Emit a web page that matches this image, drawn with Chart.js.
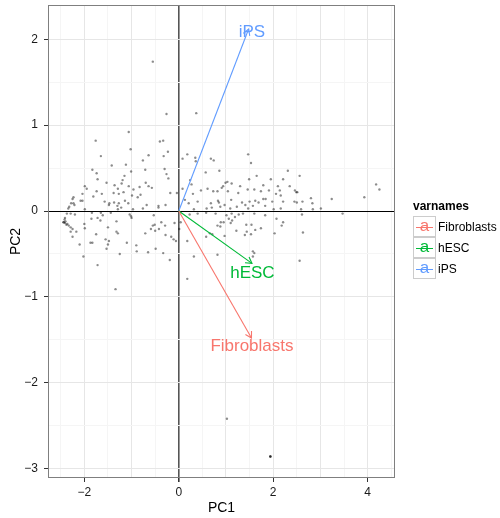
<!DOCTYPE html>
<html>
<head>
<meta charset="utf-8">
<script src="https://cdn.jsdelivr.net/npm/chart.js@4/dist/chart.umd.min.js"></script>
<style>
  html, body { margin: 0; padding: 0; background: #fff; }
  #wrap { position: relative; width: 500px; height: 518px; font-family: "Liberation Sans", Arial, sans-serif; }
  #legend { position: absolute; left: 413px; top: 199px; font-size: 12px; color: #000; }
  #legend .title { font-weight: bold; height: 17px; line-height: 15px; }
  #legend .row { height: 21px; display: flex; align-items: center; }
  #legend .key { position: relative; box-sizing: border-box; width: 23px; height: 21px; border: 1px solid #cccccc;
                 font-size: 17px; line-height: 17px; text-align: center; margin-right: 2px; }
  #legend .key::after { content: ""; position: absolute; left: 2px; right: 2px; top: 50%; height: 1px; background: currentColor; }
</style>
</head>
<body>
<div id="wrap">
  <canvas id="biplot" width="500" height="518"></canvas>
  <div id="legend"><div class="title">varnames</div></div>
</div>
<script>
// PCA scores (PC1, PC2)
const pcX = [
  -1.06, -1.76, -0.40, -0.33, -1.02, -1.65, -0.64, -0.32, -0.23, -0.76,
  -1.12, -1.42, -0.71, -0.30, -1.83, -1.74, -1.01, -0.26, -1.15, -1.72,
  -0.22, -1.19, -1.53, -1.21, -1.36, -1.06, -0.70, -0.64, -1.99, -1.95,
  -0.83, -0.57, -1.29, -1.74, -1.63, -1.38, -1.17, -0.96, -2.04, -1.81,
  -1.27, -0.99, -0.81, -0.18, -0.04, -1.14, -0.87, -2.23, -2.25, -2.08,
  -2.04, -1.57, -1.47, -1.37, -1.27, -1.07, -2.28, -2.23, -2.21, -1.48,
  -1.30, -1.22, -0.76, -0.68, -0.43, -0.43, -0.28, -2.32, -2.34, -1.99,
  -1.29, -0.97, -2.37, -2.29, -2.20, -1.84, -1.65, -1.44, -1.61, -2.41,
  -2.42, -2.44, -2.41, -2.38, -2.33, -1.85, -1.72, -1.66, -1.04, -1.01,
  -1.00, -1.32, -0.53, -0.37, -0.51, -0.55, -0.29, -0.09, -2.00, -1.99,
  -2.29, -2.25, -2.29, -2.17, -1.50, -1.32, -1.29, -0.59, -0.50, -0.42,
  -0.71, -0.28, -0.16, -0.11, -0.06, -1.75, -2.25, -1.55, -1.48, -1.87,
  -1.83, -1.10, -2.10, -1.50, -0.90, -1.53, -0.49, -0.89, -0.65, -0.33,
  -1.25, -2.02, -0.19, -1.72, -1.34,
   0.18,  0.08,  0.35,  0.36,  0.68,  0.74,  1.47,  1.53,  0.86,  0.57,
   2.31,  1.65,  0.24,  0.27,  1.03,  0.99,  0.94,  0.91,  1.12,  1.49,
   1.95,  2.21,  1.30,  1.79,  2.10,  2.35,  0.08,  0.47,  0.61,  0.73,
   0.82,  1.04,  1.26,  1.46,  1.60,  1.74,  1.91,  2.06,  2.14,  2.46,
   2.51,  0.30,  0.83,  0.85,  1.11,  1.34,  1.50,  1.62,  1.69,  1.79,
   1.84,  1.98,  2.16,  2.21,  0.40,  0.21,  0.68,  0.13,  0.97,  1.23,
   1.41,  1.57,  1.83,  0.88,  0.59,  0.32,  0.70,  1.09,  1.47,  2.01,
   2.16,  2.45,
   0.23,  0.40,  0.58,  0.78,  1.01,  1.12,  1.19,  1.27,  1.06,  1.13,
   1.36,  1.60,  1.83,  2.07,  0.04,  0.89,  0.95,  1.10,  1.43,  1.54,
   2.21,  0.82,  0.88,  1.74,  1.22,  1.44,  1.62,  2.18,  0.66,  0.71,
   2.03,  0.58,  0.97,  1.40,  1.53,  0.01,  0.18,  0.82,  1.57,  1.60,
   1.57,  0.32,  0.18,
   2.56,  2.49,  2.50,  2.62,  2.80,  2.83,  2.59,  2.84,  3.01,  3.24,
   3.93,  4.18,  4.25,  2.61,  3.47,  2.63,
  -0.55, -0.26,  0.37,  1.02,  1.94,  1.94,  1.94,  2.56, -2.44, -2.40,
  -2.36
];
const pcY = [
   0.92,  0.82,  0.81,  0.82,  0.72,  0.64,  0.65,  0.64,  0.69,  0.59,
   0.54,  0.53,  0.48,  0.49,  0.48,  0.44,  0.46,  0.43,  0.41,  0.37,
   0.38,  0.36,  0.33,  0.32,  0.30,  0.29,  0.33,  0.29,  0.29,  0.26,
   0.28,  0.27,  0.26,  0.23,  0.20,  0.21,  0.22,  0.25,  0.20,  0.17,
   0.20,  0.18,  0.19,  0.21,  0.21,  0.12,  0.16,  0.16,  0.14,  0.12,
   0.12,  0.11,  0.09,  0.10,  0.09,  0.09,  0.09,  0.09,  0.07,  0.07,
   0.06,  0.04,  0.03,  0.07,  0.06,  0.04,  0.07,  0.05,  0.03,  0.02,
   0.02,  0.02, -0.03, -0.03, -0.04, -0.02, -0.02, -0.02, -0.05, -0.08,
  -0.10, -0.13, -0.14, -0.16, -0.17, -0.09, -0.08, -0.11, -0.04, -0.06,
  -0.08, -0.12, -0.05, -0.13, -0.16, -0.17, -0.17, -0.14, -0.15, -0.20,
  -0.19, -0.21, -0.24, -0.24, -0.19, -0.24, -0.26, -0.21, -0.23, -0.21,
  -0.26, -0.28, -0.30, -0.33, -0.35, -0.27, -0.30, -0.33, -0.35, -0.37,
  -0.37, -0.37, -0.39, -0.39, -0.40, -0.44, -0.44, -0.47, -0.48, -0.49,
  -0.50, -0.53, -0.57, -0.63, -0.91,
   0.66,  0.61,  0.62,  0.58,  0.61,  0.59,  0.66,  0.56,  0.47,  0.45,
   0.47,  0.41,  0.36,  0.31,  0.34,  0.33,  0.29,  0.27,  0.32,  0.37,
   0.37,  0.37,  0.29,  0.30,  0.29,  0.29,  0.26,  0.24,  0.26,  0.23,
   0.23,  0.23,  0.21,  0.25,  0.25,  0.23,  0.24,  0.20,  0.24,  0.24,
   0.22,  0.20,  0.12,  0.10,  0.13,  0.10,  0.11,  0.12,  0.10,  0.14,
   0.14,  0.11,  0.18,  0.11,  0.11,  0.09,  0.09,  0.13,  0.07,  0.05,
   0.07,  0.06,  0.06,  0.05,  0.03,  0.02,  0.04,  0.03,  0.03,  0.02,
   0.03,  0.11,
  -0.04, -0.03, -0.02, -0.03, -0.05, -0.03, -0.07, -0.04, -0.09, -0.11,
  -0.03, -0.03, -0.05, -0.09, -0.13, -0.13, -0.13, -0.14, -0.16, -0.16,
  -0.13, -0.17, -0.18, -0.20, -0.23, -0.24, -0.22, -0.17, -0.26, -0.27,
  -0.26, -0.30, -0.29, -0.28, -0.27, -0.21, -0.35, -0.51, -0.47, -0.49,
  -0.53, -0.53, -0.79,
   0.41,  0.22,  0.10,  0.11,  0.15,  0.09,  0.02,  0.02,  0.03,  0.14,
   0.16,  0.31,  0.25, -0.04, -0.03, -0.25,
   1.74,  1.13,  1.14, -2.42, -2.86, -2.86, -2.86, -0.58, -0.13, -0.12,
  -0.15
];

// variable loadings (arrow tips) and label positions
const varNames = ["Fibroblasts", "hESC", "iPS"];
const arrowX = [1.54, 1.55, 1.48];
const arrowY = [-1.48, -0.61, 2.12];
const labelX = [1.55, 1.56, 1.55];
const labelY = [-1.58, -0.72, 2.08];

const xTicks = [-2, 0, 2, 4];
const yTicks = [-3, -2, -1, 0, 1, 2];

const varColors = ["#F8766D", "#00BA38", "#619CFF"];
const FONT = '"Liberation Sans", Arial, sans-serif';

function isWhole(v) { return Math.abs(v - Math.round(v)) < 1e-6; }

const points = pcX.map((x, i) => ({ x: x, y: pcY[i] }));

const datasets = varNames.map((name, i) => ({
  type: "line",
  label: name,
  data: [{ x: 0, y: 0 }, { x: arrowX[i], y: arrowY[i] }],
  borderColor: varColors[i],
  borderWidth: 1.1,
  pointRadius: 0,
  fill: false,
  order: 1
}));
datasets.push({
  type: "scatter",
  label: "scores",
  data: points,
  pointRadius: 1.2,
  pointBackgroundColor: "rgba(0,0,0,0.45)",
  pointBorderWidth: 0,
  order: 2
});

const panelBorder = {
  id: "panelBorder",
  afterDraw(chart) {
    const a = chart.chartArea, c = chart.ctx;
    c.save();
    c.strokeStyle = "#7f7f7f";
    c.lineWidth = 1;
    c.strokeRect(Math.round(a.left) + 0.5, Math.round(a.top) + 0.5, a.right - a.left - 1, a.bottom - a.top - 1);
    c.restore();
  }
};

const arrowHeads = {
  id: "arrowHeads",
  afterDatasetsDraw(chart) {
    const c = chart.ctx, xs = chart.scales.x, ys = chart.scales.y;
    const x0 = xs.getPixelForValue(0), y0 = ys.getPixelForValue(0);
    c.save();
    varNames.forEach((name, i) => {
      const x1 = xs.getPixelForValue(arrowX[i]), y1 = ys.getPixelForValue(arrowY[i]);
      const ang = Math.atan2(y1 - y0, x1 - x0);
      const len = 7, spread = Math.PI / 6;
      c.strokeStyle = varColors[i];
      c.lineWidth = 1.1;
      c.beginPath();
      c.moveTo(x1 - len * Math.cos(ang - spread), y1 - len * Math.sin(ang - spread));
      c.lineTo(x1, y1);
      c.lineTo(x1 - len * Math.cos(ang + spread), y1 - len * Math.sin(ang + spread));
      c.stroke();
      c.fillStyle = varColors[i];
      c.font = "17px " + FONT;
      c.textAlign = "center";
      c.textBaseline = "middle";
      c.fillText(name, xs.getPixelForValue(labelX[i]), ys.getPixelForValue(labelY[i]));
    });
    c.restore();
  }
};

new Chart(document.getElementById("biplot"), {
  type: "scatter",
  data: { datasets: datasets },
  plugins: [panelBorder, arrowHeads],
  options: {
    responsive: false,
    animation: false,
    layout: { padding: { left: 0, right: 105, top: 5, bottom: 0 } },
    plugins: { legend: { display: false }, tooltip: { enabled: false } },
    scales: {
      x: {
        type: "linear",
        min: -2.77,
        max: 4.58,
        afterFit: (s) => { s.height = 40; s.paddingLeft = 0; s.paddingRight = 0; },
        border: { display: false },
        grid: {
          color: (ctx) => ctx.tick && Math.abs(ctx.tick.value) < 1e-6 ? "#555555" : (isWhole(ctx.tick.value) ? "#e6e6e6" : "#f5f5f5"),
          lineWidth: (ctx) => ctx.tick && Math.abs(ctx.tick.value) < 1e-6 ? 1.6 : 1,
          tickColor: (ctx) => ctx.tick && xTicks.includes(Math.round(ctx.tick.value)) && isWhole(ctx.tick.value) ? "#333333" : "rgba(0,0,0,0)",
          tickLength: 4
        },
        ticks: {
          stepSize: 0.5,
          includeBounds: false,
          autoSkip: false,
          maxRotation: 0,
          padding: 3,
          color: "#1a1a1a",
          font: { family: FONT, size: 12 },
          callback: (v) => (isWhole(v) && xTicks.includes(Math.round(v))) ? String(Math.round(v)).replace("-", "\u2212") : ""
        },
        title: { display: true, text: "PC1", color: "#000", font: { family: FONT, size: 14 }, padding: { top: 0, bottom: 1 } }
      },
      y: {
        type: "linear",
        min: -3.11,
        max: 2.40,
        afterFit: (s) => { s.width = 48; s.paddingTop = 0; s.paddingBottom = 0; },
        border: { display: false },
        grid: {
          color: (ctx) => ctx.tick && Math.abs(ctx.tick.value) < 1e-6 ? "#000000" : (isWhole(ctx.tick.value) ? "#e6e6e6" : "#f5f5f5"),
          lineWidth: 1,
          tickColor: (ctx) => ctx.tick && yTicks.includes(Math.round(ctx.tick.value)) && isWhole(ctx.tick.value) ? "#333333" : "rgba(0,0,0,0)",
          tickLength: 4
        },
        ticks: {
          stepSize: 0.5,
          includeBounds: false,
          autoSkip: false,
          padding: 6,
          color: "#1a1a1a",
          font: { family: FONT, size: 12 },
          callback: (v) => (isWhole(v) && yTicks.includes(Math.round(v))) ? String(Math.round(v)).replace("-", "\u2212") : ""
        },
        title: { display: true, text: "PC2", color: "#000", font: { family: FONT, size: 14 }, padding: { top: 8, bottom: 0 } }
      }
    }
  }
});

// legend: varnames
const legend = document.getElementById("legend");
varNames.forEach((name, i) => {
  const row = document.createElement("div");
  row.className = "row";
  const key = document.createElement("span");
  key.className = "key";
  key.style.color = varColors[i];
  key.textContent = "a";
  row.appendChild(key);
  row.appendChild(document.createTextNode(name));
  legend.appendChild(row);
});
</script>
</body>
</html>
